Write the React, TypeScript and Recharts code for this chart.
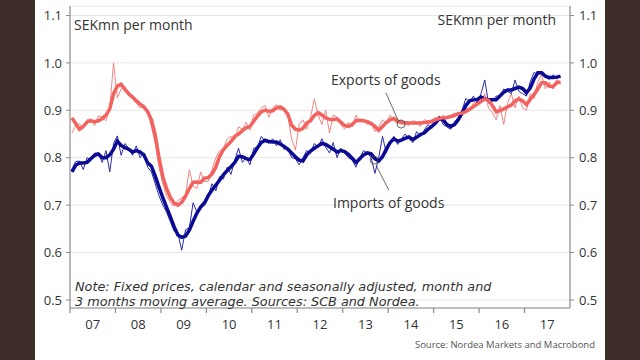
import React from "react";
import {
  LineChart,
  Line,
  XAxis,
  YAxis,
  CartesianGrid,
  ReferenceDot,
  ReferenceLine,
} from "recharts";

// Monthly values, Jan 2007 .. Oct 2017, SEK bn per month
const EXPORTS_MONTHLY = [
  0.852, 0.868, 0.872, 0.862, 0.88, 0.882, 0.868, 0.888, 0.886, 0.878, 0.905, 1.0,
  0.926, 0.945, 0.95, 0.93, 0.925, 0.915, 0.905, 0.912, 0.895, 0.865, 0.83, 0.78,
  0.745, 0.72, 0.705, 0.698, 0.71, 0.715, 0.722, 0.775, 0.74, 0.735, 0.77, 0.75,
  0.75, 0.775, 0.8, 0.815, 0.82, 0.84, 0.845, 0.838, 0.865, 0.86, 0.875, 0.858,
  0.89, 0.895, 0.905, 0.91, 0.885, 0.905, 0.912, 0.9, 0.905, 0.89, 0.84, 0.816,
  0.87, 0.88, 0.86, 0.885, 0.924, 0.89, 0.87, 0.9, 0.852, 0.89, 0.885, 0.87,
  0.86, 0.875, 0.865, 0.89, 0.875, 0.88, 0.87, 0.875, 0.855, 0.865, 0.88, 0.872,
  0.89, 0.878, 0.872, 0.88, 0.87, 0.868, 0.878, 0.875, 0.866, 0.88, 0.878, 0.874,
  0.886, 0.88, 0.89, 0.882, 0.888, 0.895, 0.89, 0.898, 0.905, 0.9, 0.915, 0.918,
  0.915, 0.935, 0.905, 0.895, 0.88, 0.91, 0.87, 0.915, 0.935, 0.905, 0.93, 0.905,
  0.9, 0.935, 0.925, 0.96, 0.975, 0.945, 0.96, 0.945, 0.965, 0.955,
];

const EXPORTS_3M = [
  0.884, 0.872, 0.86, 0.866, 0.875, 0.878, 0.876, 0.878, 0.882, 0.89, 0.903, 0.935,
  0.951, 0.955, 0.944, 0.935, 0.928, 0.92, 0.913, 0.907, 0.897, 0.88, 0.848, 0.8,
  0.76, 0.735, 0.716, 0.704, 0.7, 0.706, 0.719, 0.735, 0.748, 0.749, 0.748, 0.757,
  0.758, 0.766, 0.78, 0.803, 0.817, 0.826, 0.834, 0.845, 0.85, 0.857, 0.863, 0.866,
  0.877, 0.888, 0.897, 0.9, 0.898, 0.899, 0.905, 0.907, 0.902, 0.892, 0.869, 0.86,
  0.858, 0.862, 0.873, 0.878, 0.889, 0.895, 0.89, 0.884, 0.881, 0.88, 0.882, 0.875,
  0.868, 0.866, 0.87, 0.878, 0.879, 0.878, 0.876, 0.872, 0.866, 0.858, 0.866, 0.874,
  0.88, 0.883, 0.877, 0.874, 0.874, 0.873, 0.873, 0.873, 0.873, 0.874, 0.875, 0.877,
  0.88, 0.883, 0.884, 0.885, 0.887, 0.889, 0.893, 0.894, 0.897, 0.902, 0.908, 0.913,
  0.919, 0.924, 0.921, 0.91, 0.897, 0.899, 0.903, 0.907, 0.911, 0.92, 0.924, 0.92,
  0.912, 0.923, 0.933, 0.945, 0.958, 0.958, 0.951, 0.95, 0.958, 0.96,
];

const IMPORTS_MONTHLY = [
  0.775, 0.792, 0.793, 0.775, 0.8, 0.795, 0.81, 0.81, 0.79, 0.815, 0.77, 0.83,
  0.846, 0.805, 0.83, 0.82, 0.805, 0.825, 0.8, 0.81, 0.78, 0.77, 0.745, 0.72,
  0.7, 0.685, 0.665, 0.645, 0.64, 0.605, 0.648, 0.652, 0.705, 0.685, 0.7, 0.71,
  0.72, 0.745, 0.73, 0.76, 0.755, 0.78, 0.765, 0.795, 0.82, 0.79, 0.8, 0.785,
  0.82, 0.822, 0.845, 0.835, 0.83, 0.84, 0.825, 0.838, 0.818, 0.82, 0.8, 0.798,
  0.785, 0.8, 0.815, 0.81, 0.83, 0.822, 0.84, 0.822, 0.81, 0.832, 0.8, 0.82,
  0.81, 0.8, 0.795, 0.78, 0.8, 0.815, 0.81, 0.8, 0.767, 0.8, 0.845, 0.81,
  0.83, 0.845, 0.828, 0.84, 0.85, 0.84, 0.832, 0.855, 0.845, 0.858, 0.87, 0.862,
  0.875, 0.888, 0.87, 0.865, 0.86, 0.875, 0.885, 0.9, 0.925, 0.918, 0.93, 0.915,
  0.935, 0.964, 0.915, 0.92, 0.93, 0.93, 0.945, 0.94, 0.935, 0.964, 0.94, 0.935,
  0.93, 0.96, 0.98, 0.975, 0.98, 0.97, 0.965, 0.975, 0.968, 0.97,
];

const IMPORTS_3M = [
  0.77, 0.784, 0.789, 0.789, 0.79, 0.798, 0.805, 0.808, 0.8, 0.8, 0.806, 0.818,
  0.835, 0.826, 0.821, 0.818, 0.812, 0.815, 0.812, 0.806, 0.789, 0.782, 0.761, 0.738,
  0.716, 0.695, 0.675, 0.654, 0.637, 0.632, 0.635, 0.647, 0.666, 0.683, 0.696, 0.704,
  0.72, 0.732, 0.742, 0.753, 0.764, 0.773, 0.781, 0.79, 0.803, 0.802, 0.798, 0.796,
  0.808, 0.821, 0.832, 0.837, 0.834, 0.833, 0.833, 0.829, 0.824, 0.818, 0.81, 0.802,
  0.795, 0.793, 0.806, 0.814, 0.82, 0.825, 0.83, 0.828, 0.823, 0.818, 0.812, 0.815,
  0.813, 0.807, 0.799, 0.79, 0.798, 0.806, 0.81, 0.808, 0.798, 0.793, 0.802, 0.818,
  0.832, 0.84, 0.835, 0.837, 0.841, 0.844, 0.838, 0.843, 0.849, 0.852, 0.86, 0.866,
  0.873, 0.883, 0.88, 0.87, 0.866, 0.87, 0.88, 0.894, 0.91, 0.92, 0.922, 0.923,
  0.928, 0.924, 0.922, 0.922, 0.922, 0.93, 0.938, 0.943, 0.943, 0.946, 0.949, 0.946,
  0.937, 0.947, 0.966, 0.979, 0.979, 0.972, 0.969, 0.969, 0.97, 0.972,
];

const YEAR_LABELS = ["07", "08", "09", "10", "11", "12", "13", "14", "15", "16", "17"];
const Y_TICKS = [0.5, 0.6, 0.7, 0.8, 0.9, 1.0, 1.1];

const RED = "#f2625f";
const RED_THIN = "#f08683";
const BLUE = "#0a0a94";
const BLUE_THIN = "#2b2ba6";
const TEXT = "#333";
const AXIS = "#8a8a8a";
const FONT = "'Open Sans', 'Noto Sans', sans-serif";

const rows = EXPORTS_MONTHLY.map((v, i) => ({
  t: i,
  expM: v,
  exp3: EXPORTS_3M[i],
  impM: IMPORTS_MONTHLY[i],
  imp3: IMPORTS_3M[i],
}));

// year boundaries (tick marks) and mid-year (labels), in month-index units
const yearStarts = YEAR_LABELS.map((_, k) => k * 12 - 0.5);
const yearMids = YEAR_LABELS.map((_, k) => k * 12 + 5.5);

const XTick = (props: any) => {
  const { x, y, payload } = props;
  const v = payload.value;
  const k = yearStarts.indexOf(v);
  if (k >= 0) {
    return <line x1={x} y1={y} x2={x} y2={y + 5} stroke={AXIS} strokeWidth={1.2} />;
  }
  const m = yearMids.indexOf(v);
  return (
    <text x={x} y={y + 21} textAnchor="middle" fill={TEXT} fontSize={13} fontFamily={FONT}>
      {YEAR_LABELS[m]}
    </text>
  );
};

const abs = (s: React.CSSProperties): React.CSSProperties => ({
  position: "absolute",
  whiteSpace: "nowrap",
  color: TEXT,
  fontFamily: FONT,
  ...s,
});

export default function App() {
  return (
    <div style={{ position: "absolute", left: 0, top: 0, width: 640, height: 360, background: "#3e2c29" }}>
      <div style={{ position: "absolute", left: 35, top: 0, width: 570, height: 360, background: "#fff" }} />
      <div style={{ position: "absolute", left: 0, top: 0 }}>
        <LineChart width={640} height={360} data={rows} margin={{ top: 6, right: 30, bottom: 22, left: 35 }}>
          <CartesianGrid vertical={false} stroke="#e6e6e6" yAxisId="left" />
          <XAxis
            dataKey="t"
            type="number"
            domain={[-0.5, 131.5]}
            ticks={[...yearStarts, ...yearMids].sort((a, b) => a - b)}
            interval={0}
            tickLine={false}
            tickSize={0}
            tickMargin={0}
            tick={<XTick />}
            axisLine={{ stroke: AXIS, strokeWidth: 1.2 }}
            height={30}
          />
          <YAxis
            yAxisId="left"
            orientation="left"
            width={35}
            domain={[0.483, 1.12]}
            ticks={Y_TICKS}
            interval={0}
            allowDataOverflow
            tickFormatter={(v: number) => v.toFixed(1)}
            tick={{ fill: TEXT, fontSize: 13, fontFamily: FONT }}
            tickSize={4}
            tickMargin={4}
            axisLine={{ stroke: AXIS, strokeWidth: 1.2 }}
            tickLine={{ stroke: AXIS }}
          />
          <YAxis
            yAxisId="right"
            orientation="right"
            width={40}
            domain={[0.483, 1.12]}
            ticks={Y_TICKS}
            interval={0}
            allowDataOverflow
            tickFormatter={(v: number) => v.toFixed(1)}
            tick={{ fill: TEXT, fontSize: 13, fontFamily: FONT }}
            tickSize={4}
            tickMargin={5}
            axisLine={{ stroke: AXIS, strokeWidth: 1.2 }}
            tickLine={{ stroke: AXIS }}
          />
          <Line yAxisId="left" type="linear" dataKey="expM" stroke={RED_THIN} strokeWidth={1} dot={false} isAnimationActive={false} />
          <Line yAxisId="left" type="linear" dataKey="impM" stroke={BLUE_THIN} strokeWidth={1} dot={false} isAnimationActive={false} />
          <Line yAxisId="left" type="linear" dataKey="imp3" stroke={BLUE} strokeWidth={3.5} dot={false} isAnimationActive={false} />
          <Line yAxisId="left" type="linear" dataKey="exp3" stroke={RED} strokeWidth={3.5} dot={false} isAnimationActive={false} />
          <ReferenceLine
            yAxisId="left"
            segment={[{ x: 82.9, y: 0.937 }, { x: 86.1, y: 0.879 }]}
            stroke="#444"
            strokeWidth={0.8}
          />
          <ReferenceDot yAxisId="left" x={86.9} y={0.871} r={4} fill="none" stroke="#444" strokeWidth={0.8} />
          <ReferenceLine
            yAxisId="left"
            segment={[{ x: 80.3, y: 0.784 }, { x: 83.7, y: 0.731 }]}
            stroke="#444"
            strokeWidth={0.8}
          />
          <ReferenceDot yAxisId="left" x={79.8} y={0.795} r={4} fill="none" stroke="#444" strokeWidth={0.8} />
        </LineChart>
      </div>
      <div style={abs({ left: 74, top: 16, fontSize: 14, lineHeight: "18px" })}>SEKmn per month</div>
      <div style={abs({ right: 84, top: 11, fontSize: 14, lineHeight: "18px" })}>SEKmn per month</div>
      <div style={abs({ left: 331, top: 71, fontSize: 14, lineHeight: "18px" })}>Exports of goods</div>
      <div style={abs({ left: 333, top: 194, fontSize: 14, lineHeight: "18px" })}>Imports of goods</div>
      <div
        style={abs({
          left: 75,
          top: 279,
          fontSize: 12.8,
          lineHeight: "15px",
          fontStyle: "italic",
          fontFamily: "'DejaVu Sans', sans-serif",
        })}
      >
        Note: Fixed prices, calendar and seasonally adjusted, month and
        <br />3 months moving average. Sources: SCB and Nordea.
      </div>
      <div style={abs({ right: 45, top: 338, fontSize: 9.5, lineHeight: "14px", color: "#555" })}>
        Source: Nordea Markets and Macrobond
      </div>
    </div>
  );
}
